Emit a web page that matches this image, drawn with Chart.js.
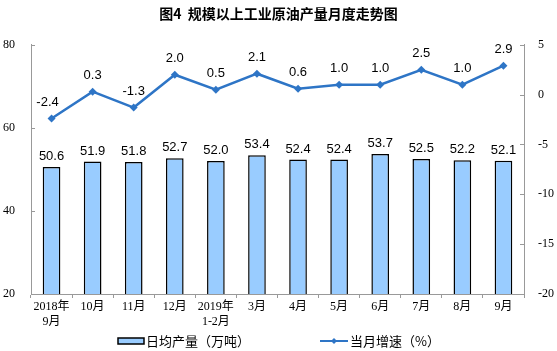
<!DOCTYPE html>
<html>
<head>
  <meta charset="utf-8">
  <title>规模以上工业原油产量月度走势图</title>
  <script src="https://cdn.jsdelivr.net/npm/chart.js"></script>
  <style>
    html, body { margin: 0; padding: 0; background: #fff; }
    #wrap { width: 557px; height: 351px; }
  </style>
</head>
<body>
  <div id="wrap"><canvas id="chart1"></canvas></div>
  <script>
    // 数据
    const months = [["2018年", "9月"], "10月", "11月", "12月", ["2019年", "1-2月"], "3月", "4月", "5月", "6月", "7月", "8月", "9月"];
    const dailyOutput = [50.6, 51.9, 51.8, 52.7, 52.0, 53.4, 52.4, 52.4, 53.7, 52.5, 52.2, 52.1];
    const growthRate = [-2.4, 0.3, -1.3, 2.0, 0.5, 2.1, 0.6, 1.0, 1.0, 2.5, 1.0, 2.9];
    const leftTicks = [20, 40, 60, 80];
    const rightTicks = [-20, -15, -10, -5, 0, 5];
    const barName = "日均产量（万吨）";
    const lineName = "当月增速（%）";

    const barFill = "#99CCFF";
    const lineColor = "#2E75C6";
    const serif = "'Liberation Serif', 'Noto Sans CJK SC', serif";
    const sans = "'Liberation Sans', Arial, sans-serif";

    // value labels + legend + inward ticks
    const extras = {
      id: "extras",
      afterDatasetsDraw(chart) {
        const ctx = chart.ctx;
        ctx.save();
        ctx.fillStyle = "#000";
        ctx.font = "13px " + sans;
        ctx.textAlign = "center";
        ctx.textBaseline = "bottom";
        chart.getDatasetMeta(0).data.forEach((el, i) => {
          ctx.fillText(dailyOutput[i].toFixed(1), el.x, el.y - 4);
        });
        chart.getDatasetMeta(1).data.forEach((el, i) => {
          ctx.fillText(growthRate[i].toFixed(1), el.x - (i === 0 ? 4 : 0), el.y - 10);
        });

        const a = chart.chartArea;
        ctx.strokeStyle = "#999";
        ctx.lineWidth = 1;
        ctx.beginPath();
        const yl = chart.scales.y, yr = chart.scales.y1;
        leftTicks.forEach(v => {
          const py = Math.round(yl.getPixelForValue(v)) + 0.5;
          ctx.moveTo(a.left, py); ctx.lineTo(a.left + 4, py);
        });
        rightTicks.forEach(v => {
          const py = Math.round(yr.getPixelForValue(v)) + 0.5;
          ctx.moveTo(a.right, py); ctx.lineTo(a.right - 4, py);
        });
        ctx.stroke();

        // legend
        const ly = 341;
        ctx.fillStyle = barFill;
        ctx.fillRect(118, ly - 3, 26, 6);
        ctx.strokeStyle = "#000";
        ctx.lineWidth = 1.5;
        ctx.strokeRect(118, ly - 3, 26, 6);
        ctx.strokeStyle = lineColor;
        ctx.lineWidth = 2;
        ctx.beginPath();
        ctx.moveTo(320, ly); ctx.lineTo(348, ly);
        ctx.stroke();
        ctx.fillStyle = lineColor;
        ctx.beginPath();
        ctx.moveTo(334, ly - 3); ctx.lineTo(337, ly); ctx.lineTo(334, ly + 3); ctx.lineTo(331, ly);
        ctx.closePath();
        ctx.fill();
        ctx.fillStyle = "#000";
        ctx.font = "13px 'Noto Sans CJK SC'";
        ctx.textAlign = "left";
        ctx.textBaseline = "middle";
        ctx.fillText(barName, 146, ly);
        ctx.fillText(lineName, 350, ly);
        ctx.restore();
      }
    };

    const ctx = document.getElementById("chart1").getContext("2d");
    const chart = new Chart(ctx, {
      data: {
        labels: months,
        datasets: [
          {
            type: "bar",
            label: barName,
            data: dailyOutput,
            yAxisID: "y",
            backgroundColor: barFill,
            borderColor: "#000",
            borderWidth: 1.5,
            categoryPercentage: 1,
            barPercentage: 0.43,
            order: 1
          },
          {
            type: "line",
            label: lineName,
            data: growthRate,
            yAxisID: "y1",
            borderColor: lineColor,
            backgroundColor: lineColor,
            borderWidth: 2.5,
            pointStyle: "rectRot",
            pointRadius: 4,
            pointBorderWidth: 0,
            tension: 0,
            order: 0
          }
        ]
      },
      options: {
        responsive: true,
        maintainAspectRatio: false,
        animation: false,
        layout: { padding: { left: 0, right: 0, top: 0, bottom: 22 } },
        plugins: {
          legend: { display: false },
          tooltip: { enabled: false },
          title: {
            display: true,
            text: "图4  规模以上工业原油产量月度走势图",
            color: "#000",
            font: { family: "'Noto Sans CJK SC'", size: 14, weight: "bold" },
            padding: { top: 5, bottom: 23 }
          }
        },
        scales: {
          x: {
            grid: { display: true, drawOnChartArea: false, offset: true, tickLength: 4, color: "#999" },
            border: { color: "#999" },
            ticks: { color: "#000", font: { family: serif, size: 12 }, padding: 2, maxRotation: 0, autoSkip: false },
            afterFit(s) { s.height = 35; }
          },
          y: {
            position: "left",
            min: 20, max: 80,
            afterBuildTicks(s) { s.ticks = leftTicks.map(v => ({ value: v })); },
            grid: { display: false },
            border: { color: "#999" },
            ticks: { color: "#000", font: { family: serif, size: 12 }, padding: 8 },
            afterFit(s) { s.width = 31; }
          },
          y1: {
            position: "right",
            min: -20, max: 5,
            afterBuildTicks(s) { s.ticks = rightTicks.map(v => ({ value: v })); },
            grid: { display: false },
            border: { color: "#999" },
            ticks: { color: "#000", font: { family: serif, size: 12 }, padding: 6 },
            afterFit(s) { s.width = 33; }
          }
        }
      },
      plugins: [extras]
    });
  </script>
</body>
</html>
